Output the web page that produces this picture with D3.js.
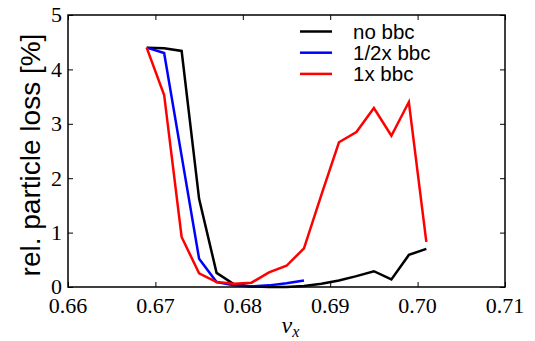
<!DOCTYPE html>
<html>
<head>
<meta charset="utf-8">
<script src="https://cdn.jsdelivr.net/npm/d3@7"></script>
</head>
<body style="margin:0">
<script>

// tune values (x) and relative loss in percent for each run
const nuFull = [0.669, 0.671, 0.673, 0.675, 0.677, 0.679, 0.681, 0.683, 0.685,
                0.687, 0.689, 0.691, 0.693, 0.695, 0.697, 0.699, 0.701];
const nuHalf = [0.669, 0.671, 0.673, 0.675, 0.677, 0.679, 0.681, 0.683, 0.685, 0.687];

const lossNoBbc = [4.4, 4.39, 4.34, 1.62, 0.26, 0.05, 0.01, 0.0, 0.0,
                   0.02, 0.06, 0.12, 0.2, 0.29, 0.14, 0.59, 0.7];
const lossHalfBbc = [4.4, 4.3, 2.41, 0.52, 0.09, 0.03, 0.01, 0.03, 0.07, 0.12];
const lossOneBbc = [4.4, 3.53, 0.92, 0.25, 0.09, 0.06, 0.08, 0.27, 0.39,
                    0.71, 1.7, 2.66, 2.85, 3.29, 2.78, 3.4, 0.83];

const xTicks = [0.66, 0.67, 0.68, 0.69, 0.70, 0.71];
const yTicks = [0, 1, 2, 3, 4, 5];

const seriesNames = ["no bbc", "1/2x bbc", "1x bbc"];
const seriesColors = ["#000000", "#0000ff", "#ff0000"];

const width = 535, height = 341;
const margin = {top: 15, right: 30, bottom: 54, left: 68};

const svg = d3.select("body")
                .append("svg")
                .attr("width", width)
                .attr("height", height);

const xScale = d3.scaleLinear()
                .domain([0.66, 0.71])
                .range([margin.left, width - margin.right]);

const yScale = d3.scaleLinear()
                .domain([0, 5])
                .range([height - margin.bottom, margin.top]);

// tick marks on all four sides, pointing inwards
svg.append("g")
    .attr("transform", `translate(0,${height - margin.bottom})`)
    .call(d3.axisBottom(xScale).tickValues(xTicks).tickFormat("").tickSizeInner(-5).tickSizeOuter(0));
svg.append("g")
    .attr("transform", `translate(${margin.left},0)`)
    .call(d3.axisLeft(yScale).tickValues(yTicks).tickFormat("").tickSizeInner(-5).tickSizeOuter(0));
svg.append("g")
    .attr("transform", `translate(0,${margin.top})`)
    .call(d3.axisTop(xScale).tickValues(xTicks).tickFormat("").tickSizeInner(-5).tickSizeOuter(0));
svg.append("g")
    .attr("transform", `translate(${width - margin.right},0)`)
    .call(d3.axisRight(yScale).tickValues(yTicks).tickFormat("").tickSizeInner(-5).tickSizeOuter(0));

svg.selectAll(".domain").remove();
svg.selectAll(".tick text").remove();
svg.selectAll(".tick line").attr("stroke", "#000").attr("stroke-width", 1);

// tick labels (serif, like the mathtext default)
svg.selectAll("text.xlab")
    .data(xTicks)
    .enter()
    .append("text")
    .attr("class", "xlab")
    .attr("x", d => xScale(d))
    .attr("y", height - margin.bottom + 26)
    .attr("text-anchor", "middle")
    .style("font-family", '"Liberation Serif"')
    .style("font-size", "22px")
    .text(d3.format(".2f"));

svg.selectAll("text.ylab")
    .data(yTicks)
    .enter()
    .append("text")
    .attr("class", "ylab")
    .attr("x", margin.left - 6)
    .attr("y", d => yScale(d))
    .attr("dy", "0.34em")
    .attr("text-anchor", "end")
    .style("font-family", '"Liberation Serif"')
    .style("font-size", "22px")
    .text(d3.format("d"));

// lines
const line = d3.line()
    .x(d => xScale(d[0]))
    .y(d => yScale(d[1]));

const seriesData = [
    d3.zip(nuFull, lossNoBbc),
    d3.zip(nuHalf, lossHalfBbc),
    d3.zip(nuFull, lossOneBbc)
];

svg.selectAll("path.series")
    .data(seriesData)
    .enter()
    .append("path")
    .attr("class", "series")
    .attr("d", line)
    .attr("fill", "none")
    .attr("stroke", (d, i) => seriesColors[i])
    .attr("stroke-width", 2.5)
    .attr("stroke-linejoin", "miter");

// frame
svg.append("rect")
    .attr("x", margin.left)
    .attr("y", margin.top)
    .attr("width", width - margin.left - margin.right)
    .attr("height", height - margin.top - margin.bottom)
    .attr("fill", "none")
    .attr("stroke", "#000")
    .attr("stroke-width", 1.5);

// axis titles
const xTitle = svg.append("text")
    .attr("x", (margin.left + width - margin.right) / 2 + 4)
    .attr("y", 333)
    .attr("text-anchor", "middle")
    .style("font-family", '"Liberation Serif"')
    .style("font-size", "24px")
    .style("font-style", "italic");
xTitle.append("tspan").text("ν");
xTitle.append("tspan").style("font-size", "16px").attr("dy", 4).text("x");

svg.append("text")
    .attr("transform", `translate(40,155) rotate(-90)`)
    .attr("text-anchor", "middle")
    .style("font-family", '"Liberation Sans"')
    .style("font-size", "28px")
    .text("rel. particle loss [%]");

// legend
const legend = svg.append("g")
    .selectAll("g")
    .data(seriesNames)
    .enter()
    .append("g")
    .attr("transform", (d, i) => `translate(0,${31.5 + i * 21.2})`);

legend.append("line")
    .attr("x1", 300).attr("x2", 332)
    .attr("stroke", (d, i) => seriesColors[i])
    .attr("stroke-width", 2.5);

legend.append("text")
    .attr("x", 353)
    .attr("dy", "0.36em")
    .style("font-family", '"Liberation Sans"')
    .style("font-size", "20.5px")
    .text(d => d);

</script>
</body>
</html>
